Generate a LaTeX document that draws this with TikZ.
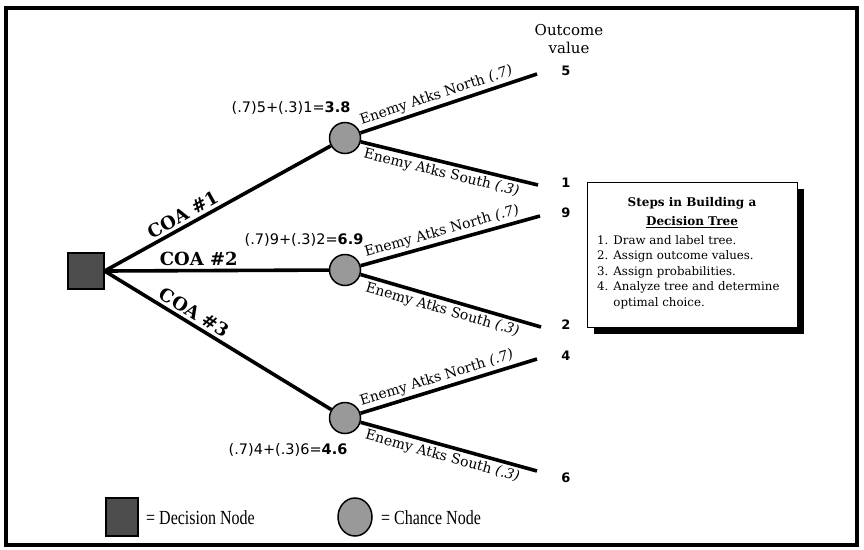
\documentclass[tikz,border=0pt]{standalone}
\usepackage{fontspec}
\setmainfont{DejaVu Serif}
\newfontfamily\numfont{DejaVu Sans}
\newfontfamily\legfont[FakeStretch=0.8]{Liberation Serif}
\usetikzlibrary{shapes.geometric,shadows}
\definecolor{decgray}{HTML}{4D4D4D}
\definecolor{chgray}{HTML}{999999}
\begin{document}
\begin{tikzpicture}[x=1pt,y=-1pt,
  branch/.style={line width=3.6pt},
  chance/.style={circle,draw,line width=1.5pt,fill=chgray,minimum size=31pt,inner sep=0pt},
  decision/.style={rectangle,draw,line width=1.2pt,fill=decgray,minimum size=36pt,inner sep=0pt},
  blab/.style={font=\fontsize{14}{15}\selectfont,sloped,inner sep=2.5pt},
  coa/.style={font=\fontsize{18}{20}\selectfont\bfseries,sloped,above,inner sep=3pt},
  ev/.style={font=\numfont\fontsize{14.5}{16}\selectfont,inner sep=0pt},
  outv/.style={font=\numfont\bfseries\fontsize{13}{15}\selectfont,inner sep=0pt},
  legtext/.style={font=\legfont\fontsize{20}{22}\selectfont,anchor=west,inner sep=0pt}]
\useasboundingbox (0,0) rectangle (864,549);
\draw[line width=4.5pt] (6,8) rectangle (857,545);

% nodes
\node[decision] (D) at (86,271) {};
\node[chance] (C1) at (345,138) {};
\node[chance] (C2) at (345,270) {};
\node[chance] (C3) at (345,418) {};
\coordinate (E1) at (537,74);
\coordinate (E2) at (538,185);
\coordinate (E3) at (540,216);
\coordinate (E4) at (541,327);
\coordinate (E5) at (537,359);
\coordinate (E6) at (537,471);

% COA branches
\draw[branch] (D.east) -- node[coa,pos=0.37] (coa1) {COA \#1} (C1);
\draw[branch] (D.east) -- node[coa,pos=0.42] (coa2) {COA \#2} (C2);
\draw[branch] (D.east) -- node[coa,pos=0.37] (coa3) {COA \#3} (C3);

% chance branches
\draw[branch] (C1) -- node[blab,above,pos=0.45] (l1) {Enemy Atks North \textit{(.7)}} (E1);
\draw[branch] (C1) -- node[blab,below,pos=0.47] (l2) {Enemy Atks South \textit{(.3)}} (E2);
\draw[branch] (C2) -- node[blab,above,pos=0.47] (l3) {Enemy Atks North \textit{(.7)}} (E3);
\draw[branch] (C2) -- node[blab,below,pos=0.47] (l4) {Enemy Atks South \textit{(.3)}} (E4);
\draw[branch] (C3) -- node[blab,above,pos=0.45] (l5) {Enemy Atks North \textit{(.7)}} (E5);
\draw[branch] (C3) -- node[blab,below,pos=0.48] (l6) {Enemy Atks South \textit{(.3)}} (E6);

% outcome values
\node[font=\fontsize{15}{18}\selectfont,align=center,inner sep=0pt] (ovh) at (569,39) {Outcome\\value};
\node[outv] (o1) at (566,71) {5};
\node[outv] (o2) at (566,183) {1};
\node[outv] (o3) at (566,213) {9};
\node[outv] (o4) at (566,325) {2};
\node[outv] (o5) at (566,356) {4};
\node[outv] (o6) at (566,478) {6};

% expected values
\node[ev] (ev1) at (291,108) {(.7)5+(.3)1=\textbf{3.8}};
\node[ev] (ev2) at (304,240) {(.7)9+(.3)2=\textbf{6.9}};
\node[ev] (ev3) at (288,450) {(.7)4+(.3)6=\textbf{4.6}};

% steps box
\node[draw,line width=1.2pt,fill=white,minimum width=210pt,minimum height=145pt,anchor=north west,
  drop shadow={shadow xshift=6pt,shadow yshift=-6pt,opacity=1,fill=black}] (steps) at (587,182) {};
\node[font=\fontsize{12}{14}\selectfont\bfseries,inner sep=0pt] (st1) at (692,203) {Steps in Building a};
\node[font=\fontsize{12}{14}\selectfont\bfseries,inner sep=0pt] (st2) at (692,222) {\underline{Decision Tree}};
\node[font=\fontsize{11.8}{15.5}\selectfont,align=left,anchor=north west,inner sep=0pt] (list) at (597,235)
  {1. Draw and label tree.\\2. Assign outcome values.\\3. Assign probabilities.\\4. Analyze tree and determine\\\phantom{4. }optimal choice.};

% legend
\node[decision,minimum width=32pt,minimum height=38pt] (legD) at (122,517) {};
\node[legtext] (legDt) at (146,518) {= Decision Node};
\node[ellipse,draw,line width=1.5pt,fill=chgray,minimum width=34pt,minimum height=38pt,inner sep=0pt] (legC) at (355,517) {};
\node[legtext] (legCt) at (381,518) {= Chance Node};
\end{tikzpicture}
\end{document}
